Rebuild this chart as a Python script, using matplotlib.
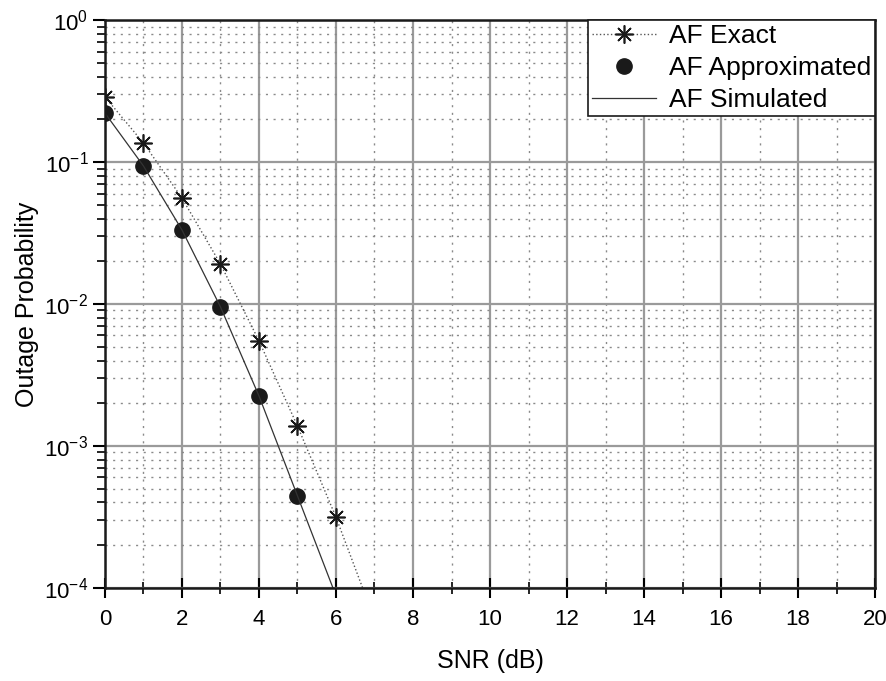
import numpy as np
import matplotlib
matplotlib.use("Agg")
import matplotlib.pyplot as plt
from matplotlib.ticker import LogLocator, MultipleLocator, NullFormatter

plt.rcParams['font.family'] = ['Liberation Sans', 'DejaVu Sans']

# data
snr_exact = [0, 1, 2, 3, 4, 5, 6, 7]
af_exact = [0.287, 0.136, 0.0557, 0.0191, 0.0055, 0.00138, 0.000315, 6.0e-5]

snr_approx = [0, 1, 2, 3, 4, 5]
af_approx = [0.221, 0.0937, 0.0332, 0.00953, 0.00225, 0.000445]

snr_sim = [0, 1, 2, 3, 4, 5, 6]
af_sim = [0.221, 0.0937, 0.0332, 0.00953, 0.00225, 0.000445, 8.8e-5]

xticks = list(range(0, 21, 2))

fig = plt.figure(figsize=(8.86, 6.81), dpi=100)
ax = fig.add_axes([0.1185, 0.1366, 0.8691, 0.834])

ax.set_yscale('log')
ax.set_xlim(0, 20)
ax.set_ylim(1e-4, 1)

# grid: solid majors, dotted minors
ax.xaxis.set_major_locator(MultipleLocator(2))
ax.xaxis.set_minor_locator(MultipleLocator(1))
ax.yaxis.set_major_locator(LogLocator(base=10, numticks=10))
ax.yaxis.set_minor_locator(LogLocator(base=10, subs=np.arange(2, 10), numticks=20))
ax.yaxis.set_minor_formatter(NullFormatter())
ax.grid(which='major', color='#9a9a9a', linestyle='-', linewidth=1.6)
ax.grid(which='minor', color='#8a8a8a', linestyle=(0, (1.5, 4)), linewidth=1.0)
ax.set_axisbelow(True)

# curves
ax.plot(snr_exact, af_exact, color='#555555', linestyle=':', linewidth=1.0,
        marker=(8, 2, 0), markersize=13, markeredgewidth=1.2,
        markeredgecolor='#1a1a1a', label='AF Exact')
ax.plot(snr_approx, af_approx, linestyle='none', marker='o', markersize=11,
        color='#1a1a1a', label='AF Approximated')
ax.plot(snr_sim, af_sim, color='#333333', linestyle='-', linewidth=0.9,
        label='AF Simulated')

ax.set_xticks(xticks)
ax.tick_params(axis='x', which='major', direction='inout', length=14, width=1.5,
               labelsize=16, pad=8, top=False)
ax.tick_params(axis='x', which='minor', direction='inout', length=8, width=1.2, top=False)
ax.tick_params(axis='y', which='major', direction='out', length=9, width=1.5,
               labelsize=16, pad=3)
ax.tick_params(axis='y', which='minor', direction='out', length=6, width=1.2)

for s in ax.spines.values():
    s.set_linewidth(1.8)
    s.set_color('#1a1a1a')

ax.set_xlabel('SNR (dB)', fontsize=18, labelpad=14)
ax.set_ylabel('Outage Probability', fontsize=18, labelpad=4)

leg = ax.legend(loc='upper right', fontsize=19, frameon=True, fancybox=False,
                borderaxespad=0.0, handlelength=2.4, handletextpad=0.5,
                labelspacing=0.3, borderpad=0.15)
leg.get_frame().set_edgecolor('#1a1a1a')
leg.get_frame().set_linewidth(1.2)
leg.get_frame().set_alpha(1.0)

fig.savefig('out.png', dpi=100)
